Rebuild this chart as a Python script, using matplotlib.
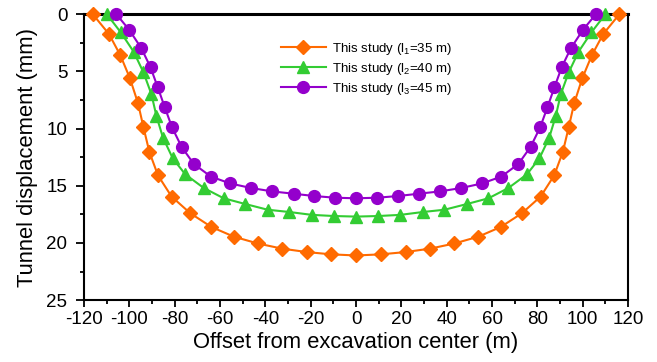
import matplotlib
matplotlib.use("Agg")
import matplotlib.pyplot as plt
from matplotlib.ticker import MultipleLocator

plt.rcParams["font.family"] = ["Liberation Sans", "DejaVu Sans"]
plt.rcParams["mathtext.fontset"] = "custom"
plt.rcParams["mathtext.rm"] = "Liberation Sans"
plt.rcParams["mathtext.it"] = "Liberation Sans"
plt.rcParams["axes.unicode_minus"] = False

# l1 = 35 m (diamonds)
x_l1 = [-116.2, -109.0, -104.0, -99.8, -96.2, -93.8, -91.2, -87.4, -81.4, -73.2, -63.9, -54.0,
        -43.4, -32.7, -21.8, -11.0, 0.0, 11.0, 21.8, 32.7, 43.4, 54.0, 63.9, 73.2, 81.4,
        87.4, 91.2, 93.8, 96.2, 99.8, 104.0, 109.0, 116.2]
y_l1 = [0.0, 1.75, 3.6, 5.6, 7.8, 9.9, 12.05, 14.1, 15.95, 17.4, 18.6, 19.45, 20.05, 20.5,
        20.8, 21.0, 21.1, 21.0, 20.8, 20.5, 20.05, 19.45, 18.6, 17.4, 15.95, 14.1, 12.05,
        9.9, 7.8, 5.6, 3.6, 1.75, 0.0]

# l2 = 40 m (triangles)
x_l2 = [-110.0, -103.8, -98.1, -93.8, -90.3, -88.1, -85.2, -80.9, -75.4, -67.2, -58.4, -48.9,
        -39.0, -29.4, -19.5, -9.8, 0.0, 9.8, 19.5, 29.4, 39.0, 48.9, 58.4, 67.2, 75.4,
        80.9, 85.2, 88.1, 90.3, 93.8, 98.1, 103.8, 110.0]
y_l2 = [0.0, 1.6, 3.3, 5.1, 7.0, 8.9, 10.8, 12.6, 14.0, 15.2, 16.1, 16.6, 17.1, 17.3, 17.55,
        17.65, 17.7, 17.65, 17.55, 17.3, 17.1, 16.6, 16.1, 15.2, 14.0, 12.6, 10.8, 8.9,
        7.0, 5.1, 3.3, 1.6, 0.0]

# l3 = 45 m (circles)
x_l3 = [-105.8, -100.0, -94.7, -90.7, -87.5, -84.4, -81.2, -77.0, -71.6, -64.1, -55.6, -46.4,
        -36.9, -27.6, -18.6, -9.35, 0.0, 9.35, 18.6, 27.6, 36.9, 46.4, 55.6, 64.1, 71.6,
        77.0, 81.2, 84.4, 87.5, 90.7, 94.7, 100.0, 105.8]
y_l3 = [0.0, 1.4, 3.0, 4.65, 6.4, 8.15, 9.9, 11.6, 13.1, 14.2, 14.8, 15.2, 15.5, 15.7, 15.9,
        16.05, 16.1, 16.05, 15.9, 15.7, 15.5, 15.2, 14.8, 14.2, 13.1, 11.6, 9.9, 8.15, 6.4,
        4.65, 3.0, 1.4, 0.0]

labels = [r"This study (l$_1$=35 m)", r"This study (l$_2$=40 m)", r"This study (l$_3$=45 m)"]
colors = ["#FF6A00", "#33CC33", "#9400CC"]
markers = ["D", "^", "o"]
msizes = [6.8, 8, 8.5]

fig = plt.figure(figsize=(6.57, 3.62), dpi=100)
ax = fig.add_axes([0.128, 0.171, 0.828, 0.790])

for xs, ys, lab, c, m, ms in zip([x_l1, x_l2, x_l3], [y_l1, y_l2, y_l3], labels, colors, markers, msizes):
    ax.plot(xs, ys, color=c, marker=m, markersize=ms, linewidth=1.5, label=lab, clip_on=False, zorder=3)

ax.set_xlim(-120, 120)
ax.set_ylim(25, 0)
ax.xaxis.set_major_locator(MultipleLocator(20))
ax.xaxis.set_minor_locator(MultipleLocator(10))
ax.yaxis.set_major_locator(MultipleLocator(5))
ax.yaxis.set_minor_locator(MultipleLocator(2.5))
ax.tick_params(which="both", direction="out", top=False, right=False, labelsize=13.5, width=1.3)
ax.tick_params(which="major", length=5, pad=3)
ax.tick_params(which="minor", length=3)
ax.tick_params(axis="y", which="major", length=6, pad=6)
for s in ax.spines.values():
    s.set_linewidth(1.5)
ax.spines["top"].set_linewidth(2.2)

ax.set_xlabel("Offset from excavation center (m)", fontsize=15.8, labelpad=3)
ax.set_ylabel("Tunnel displacement (mm)", fontsize=15.8, labelpad=6)

ax.legend(loc="upper left", bbox_to_anchor=(0.4275, 0.888), bbox_transform=fig.transFigure,
          frameon=False, fontsize=9.5, borderpad=0, borderaxespad=0,
          handlelength=3.4, labelspacing=0.32, handletextpad=0.5)

fig.savefig("out.png", dpi=100)
